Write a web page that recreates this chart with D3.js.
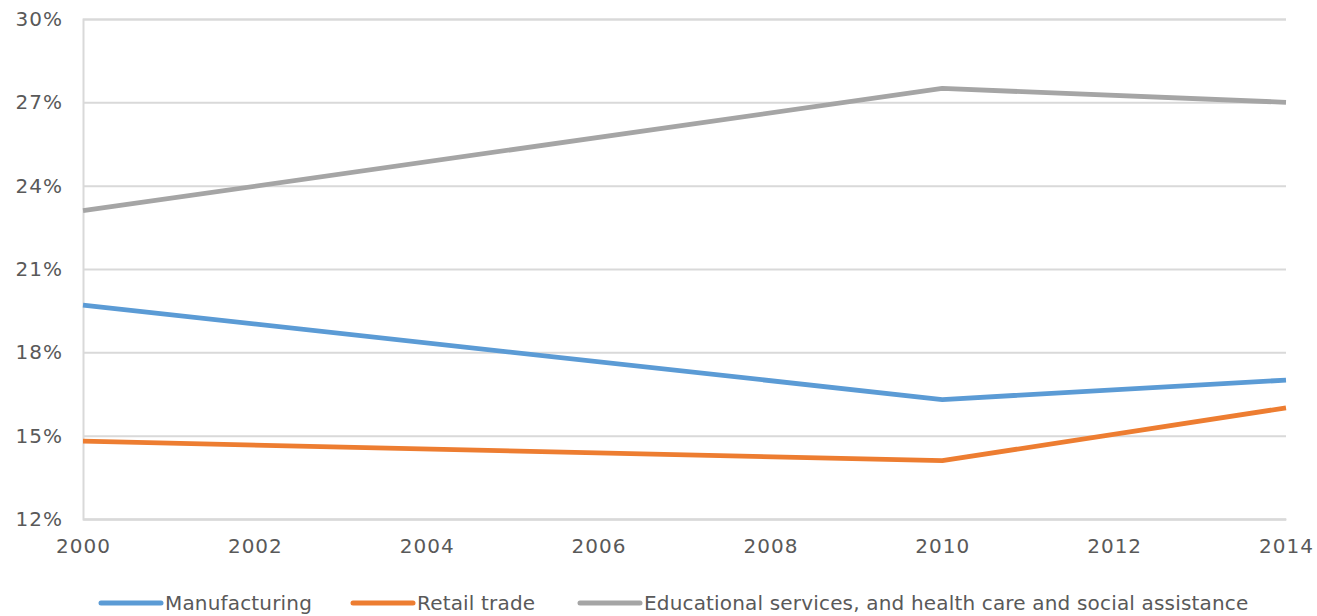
<!DOCTYPE html>
<html><head><meta charset="utf-8">
<script src="https://cdn.jsdelivr.net/npm/d3@7"></script>
<style>body{margin:0;background:#fff;} text{font-family:"Century Gothic","URW Gothic","DejaVu Sans",sans-serif;fill:#595959;}</style>
</head><body>
<svg id="c" width="1317" height="616"></svg>
<script>
const years = [2000, 2010, 2014];
const manufacturing = [19.7, 16.3, 17.0];
const retailTrade = [14.8, 14.1, 16.0];
const education = [23.1, 27.5, 27.0];
const seriesNames = ["Manufacturing", "Retail trade", "Educational services, and health care and social assistance"];
const colors = ["#5b9bd5", "#ed7d31", "#a5a5a5"];
const xTicks = [2000, 2002, 2004, 2006, 2008, 2010, 2012, 2014];
const yTicks = [12, 15, 18, 21, 24, 27, 30];

const svg = d3.select("#c");
const L = 83, R = 1286, T = 19, B = 519;
const x = d3.scaleLinear().domain([2000, 2014]).range([L, R]);
const y = d3.scaleLinear().domain([12, 30]).range([B, T]);

const ya = svg.append("g").attr("transform", `translate(${L},0)`)
  .call(d3.axisLeft(y).tickValues(yTicks).tickSize(-(R - L)).tickFormat(d => d + "%").tickPadding(20));
ya.select(".domain").attr("stroke", "#d9d9d9").attr("stroke-width", 2);
ya.selectAll(".tick line").attr("stroke", "#d9d9d9").attr("stroke-width", 2);
ya.selectAll("text").style("font-size", "20px").style("letter-spacing", "1px").attr("fill", "#595959");

const xa = svg.append("g").attr("transform", `translate(0,${B})`)
  .call(d3.axisBottom(x).tickValues(xTicks).tickFormat(d3.format("d")).tickSize(0).tickPadding(20));
xa.select(".domain").attr("stroke", "#d9d9d9").attr("stroke-width", 2);
xa.selectAll("text").style("font-size", "20px").style("letter-spacing", "1px").attr("fill", "#595959");

const data = [manufacturing, retailTrade, education];
const line = d3.line().x((d, i) => x(years[i])).y(d => y(d));
data.forEach((s, k) => {
  svg.append("path").datum(s).attr("d", line).attr("fill", "none")
    .attr("stroke", colors[k]).attr("stroke-width", 4.8).attr("stroke-linejoin", "round");
});

const legendX = [101, 353, 580];
const lg = svg.append("g").attr("transform", "translate(0,603)");
seriesNames.forEach((n, k) => {
  lg.append("line").attr("x1", legendX[k]).attr("x2", legendX[k] + 60).attr("y1", 0).attr("y2", 0)
    .attr("stroke", colors[k]).attr("stroke-width", 5).attr("stroke-linecap", "round");
  lg.append("text").attr("x", legendX[k] + 64).attr("y", 0).attr("dy", "0.35em")
    .style("font-size", "20px").style("letter-spacing", "0.17px").text(n);
});
</script>
</body></html>
